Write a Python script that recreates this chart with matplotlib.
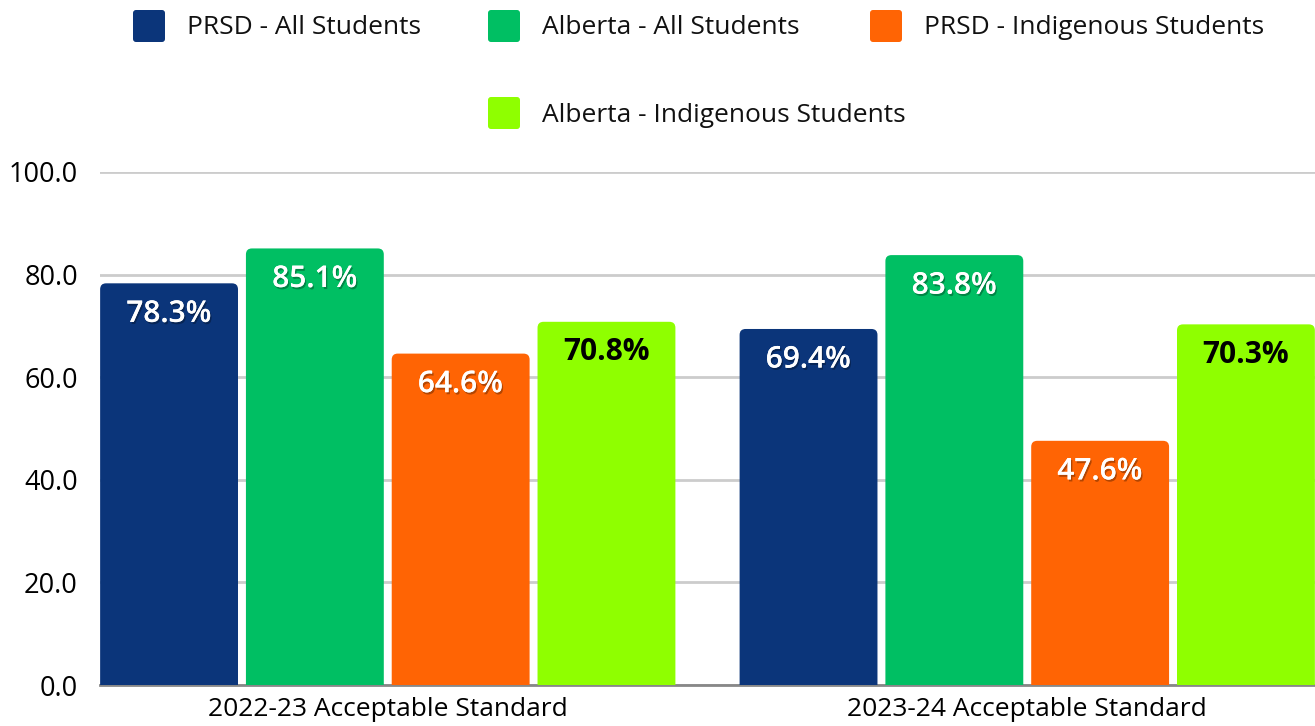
import numpy as np
import matplotlib.pyplot as plt
from matplotlib.patches import FancyBboxPatch
import matplotlib.patheffects as pe

plt.rcParams['font.family'] = ['Open Sans', 'DejaVu Sans']

# data
groups = ['2022-23 Acceptable Standard', '2023-24 Acceptable Standard']
series = ['PRSD - All Students', 'Alberta - All Students',
          'PRSD - Indigenous Students', 'Alberta - Indigenous Students']
prsd_all = [78.3, 69.4]
alberta_all = [85.1, 83.8]
prsd_indig = [64.6, 47.6]
alberta_indig = [70.8, 70.3]
values = [prsd_all, alberta_all, prsd_indig, alberta_indig]
y_ticks = [0, 20, 40, 60, 80, 100]

colors = ['#0b357a', '#00bf63', '#ff6404', '#8fff00']
label_colors = ['white', 'white', 'white', 'black']

W, H = 1315, 726
fig = plt.figure(figsize=(W / 100, H / 100), dpi=100)
ax = fig.add_axes([100 / W, 41 / H, 1215 / W, 513 / H])
ax.set_xlim(-0.45, 1.45)
ax.set_ylim(0, 100)

# pixel scales, used for rounded corners
px_x = 1215 / 1.9
px_y = 513 / 100
r = 6 / px_x
aspect = px_x / px_y

width = 0.2156
step = 0.228
x = np.arange(len(groups))
for i, vals in enumerate(values):
    for j, v in enumerate(vals):
        xc = x[j] + (i - 1.5) * step
        box = FancyBboxPatch((xc - width / 2, -5), width, v + 5,
                             boxstyle=f"round,pad=0,rounding_size={r}",
                             mutation_aspect=aspect,
                             fc=colors[i], ec='none', zorder=3)
        ax.add_patch(box)
        if label_colors[i] == 'white':
            effects = [pe.withSimplePatchShadow(offset=(1, -1.5), shadow_rgbFace='black', alpha=0.3),
                       pe.Normal()]
            weight = 'semibold'
        else:
            effects = []
            weight = 'bold'
        ax.annotate(f'{v:.1f}%', (xc, v), xytext=(0, -22), textcoords='offset points',
                    ha='center', va='center', fontsize=21.5, fontweight=weight,
                    color=label_colors[i], path_effects=effects, zorder=4)

# axes styling
ax.set_xticks(x)
ax.set_xticklabels(groups, fontsize=19)
ax.set_yticks(y_ticks)
ax.set_yticklabels([f'{t:.1f}' for t in y_ticks], fontsize=19.5)
ax.tick_params(axis='both', length=0)
ax.tick_params(axis='x', pad=9)
ax.tick_params(axis='y', pad=16)
ax.yaxis.grid(True, color='#cccccc', lw=2)
ax.set_axisbelow(True)
for s in ['top', 'right', 'left']:
    ax.spines[s].set_visible(False)
ax.spines['bottom'].set_color('#888888')
ax.spines['bottom'].set_linewidth(2)
ax.spines['bottom'].set_zorder(2.5)

# legend drawn by hand (3 + 1 centred layout)
leg_x = [133, 488, 870, 488]
leg_y = [10, 10, 10, 97]
sq = 32
for name, c, lx, ly in zip(series, colors, leg_x, leg_y):
    p = FancyBboxPatch((lx / W, 1 - (ly + sq) / H), sq / W, sq / H,
                       boxstyle=f"round,pad=0,rounding_size={3 / W}",
                       mutation_aspect=W / H, transform=fig.transFigure,
                       fc=c, ec='none')
    fig.add_artist(p)
    fig.text((lx + 54) / W, 1 - (ly + sq / 2 + 2) / H, name, fontsize=19,
             va='center', ha='left', color='#111111')

fig.savefig('out.png', dpi=100)
